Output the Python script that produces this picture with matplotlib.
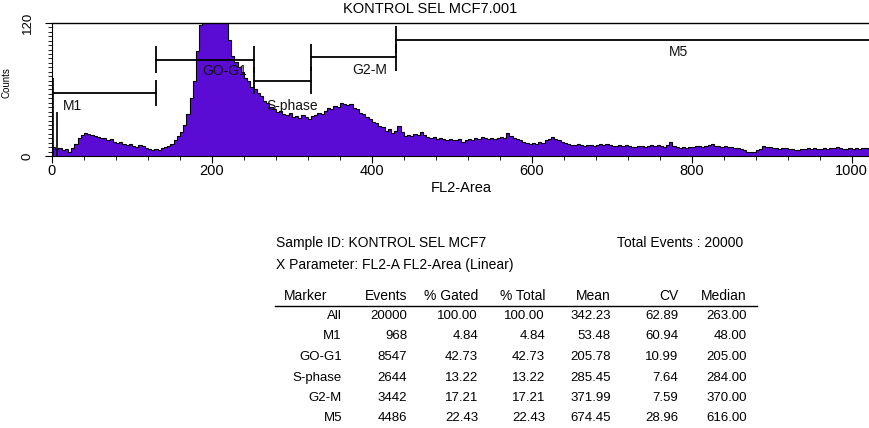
import numpy as np
import matplotlib
matplotlib.use("Agg")
import matplotlib.pyplot as plt

plt.rcParams['font.family'] = ['Liberation Sans', 'DejaVu Sans']

# histogram counts, one value per 4-channel bin (FL2-Area, 0..1023)
counts = [8, 6, 7, 5, 6, 4, 7, 11, 16, 19, 21, 20, 19, 18, 17, 16,
          16, 14, 15, 13, 12, 13, 11, 10, 11, 9, 8, 10, 9, 7, 6, 5,
          6, 5, 7, 8, 9, 11, 14, 18,
          22, 28, 38, 52, 68, 95, 118, 130, 135, 138, 140, 138, 135, 130, 122, 105,
          90, 85, 80, 76, 70, 68, 62, 60,
          57, 54, 50, 48, 44, 42, 40, 41, 38, 37, 39, 35, 36, 34, 37, 35,
          33, 36, 37, 39, 38, 41, 43, 42,
          45, 44, 48, 47, 46, 47, 43, 42, 39, 38, 35, 33, 31, 30, 27, 26,
          23, 24, 21, 23, 27, 22, 18, 19,
          18, 20, 19, 22, 19, 17, 16, 17, 15, 16, 15, 14, 15, 14, 14, 15,
          13, 14, 15, 14, 16, 15, 17, 16,
          15, 16, 15, 16, 17, 16, 21, 18, 16, 15, 14, 13, 12, 11, 12, 11,
          13, 12, 14, 15, 17, 15, 14, 13,
          12, 11, 10, 10, 11, 10, 9, 10, 10, 9, 10, 11, 10, 11, 10, 9,
          9, 10, 9, 10, 9, 8, 8, 9,
          9, 8, 9, 10, 9, 10, 9, 8, 10, 13, 9, 8, 7, 8, 7, 8,
          8, 9, 9, 8, 9, 10, 11, 9,
          9, 8, 9, 8, 8, 7, 7, 6, 5, 4, 4, 4, 5, 6, 9, 8,
          8, 7, 7, 6, 7, 7, 6, 6,
          5, 5, 6, 6, 7, 6, 7, 6, 6, 7, 6, 7, 7, 8, 7, 6,
          6, 7, 6, 7, 6, 7, 7, 6]
bin_width = 4
# narrow debris spikes at the very low channels
spike_ch = [1, 6]
spike_counts = [70, 40]

# markers
marker_names = ['M1', 'GO-G1', 'S-phase', 'G2-M', 'M5']
marker_start = [0, 130, 252, 324, 430]
marker_end = [130, 252, 324, 430, 1023]
marker_level = [57, 87, 68, 89, 105]
label_pos = [(13, 45), (188, 77), (268, 45), (375, 78), (772, 94)]

# statistics table
table_cols = ['Marker', 'Events', '% Gated', '% Total', 'Mean', 'CV', 'Median']
table_rows = [
    ['All', '20000', '100.00', '100.00', '342.23', '62.89', '263.00'],
    ['M1', '968', '4.84', '4.84', '53.48', '60.94', '48.00'],
    ['GO-G1', '8547', '42.73', '42.73', '205.78', '10.99', '205.00'],
    ['S-phase', '2644', '13.22', '13.22', '285.45', '7.64', '284.00'],
    ['G2-M', '3442', '17.21', '17.21', '371.99', '7.59', '370.00'],
    ['M5', '4486', '22.43', '22.43', '674.45', '28.96', '616.00'],
]

W, H = 869, 428
fig = plt.figure(figsize=(W / 100, H / 100), dpi=100)
x0, x1, ytop, ybot = 52, 870, 23, 156
ax = fig.add_axes([x0 / W, 1 - ybot / H, (x1 - x0) / W, (ybot - ytop) / H])

edges = np.arange(len(counts) + 1) * bin_width
ax.stairs(counts, edges, fill=True, color='#5a0cd4', zorder=1)
ax.stairs(counts, edges, color='black', lw=0.8, zorder=2)
ax.vlines(spike_ch, 0, spike_counts, color='black', lw=1.2, zorder=2)

for s, e, lv in zip(marker_start, marker_end, marker_level):
    ax.plot([s, e], [lv, lv], color='black', lw=1.3, zorder=3)
    ax.vlines([s, e], lv - 12, lv + 12, color='black', lw=1.3, zorder=3)
for name, (lx, ly) in zip(marker_names, label_pos):
    ax.text(lx, ly, name, fontsize=10, ha='left', va='center', color='#111111', zorder=4)

ax.set_xlim(0, 1023)
ax.set_ylim(0, 120)
ax.spines['right'].set_visible(False)
ax.spines['top'].set_linewidth(1.0)
ax.set_xticks([0, 200, 400, 600, 800, 1000])
ax.set_xticks(np.arange(0, 1024, 40), minor=True)
ax.set_yticks([0, 120])
ax.set_yticks(np.arange(0, 121, 4), minor=True)
ax.tick_params(axis='x', which='major', direction='out', length=5, labelsize=10.5, pad=1)
ax.tick_params(axis='y', which='major', direction='out', length=5, labelsize=9.5, pad=8)
ax.tick_params(axis='both', which='minor', direction='out', length=3)
for lab in ax.get_yticklabels():
    lab.set_rotation(90)
    lab.set_va('center')
ax.set_xlabel('FL2-Area', fontsize=10.5, labelpad=2)
ax.set_ylabel('Counts', fontsize=7)
ax.yaxis.set_label_coords(12 / W, 1 - 83 / H, transform=fig.transFigure)
fig.text(430 / W, 1 - 9 / H, 'KONTROL SEL MCF7.001', fontsize=10.5, ha='center', va='center')


def ft(x, y, s, size=10, **kw):
    fig.text(x / W, 1 - y / H, s, fontsize=size, va='center', **kw)


ft(276, 243, 'Sample ID: KONTROL SEL MCF7', ha='left')
ft(617, 243, 'Total Events : 20000', ha='left')
ft(276, 265, 'X Parameter: FL2-A FL2-Area (Linear)', ha='left')

col_right = [342, 407, 478, 545, 611, 678, 747]
ft(284, 296, table_cols[0], ha='left')
for cx, name in zip(col_right[1:], table_cols[1:]):
    ft(cx, 296, name, ha='right')
fig.add_artist(plt.Line2D([275 / W, 757 / W], [1 - 306 / H, 1 - 306 / H], color='black', lw=1.0))
row_y = [316, 336, 357, 378, 398, 418]
for ry, row in zip(row_y, table_rows):
    for cx, val in zip(col_right, row):
        ft(cx, ry, val, size=9.5, ha='right')

fig.savefig('out.png', dpi=100)
